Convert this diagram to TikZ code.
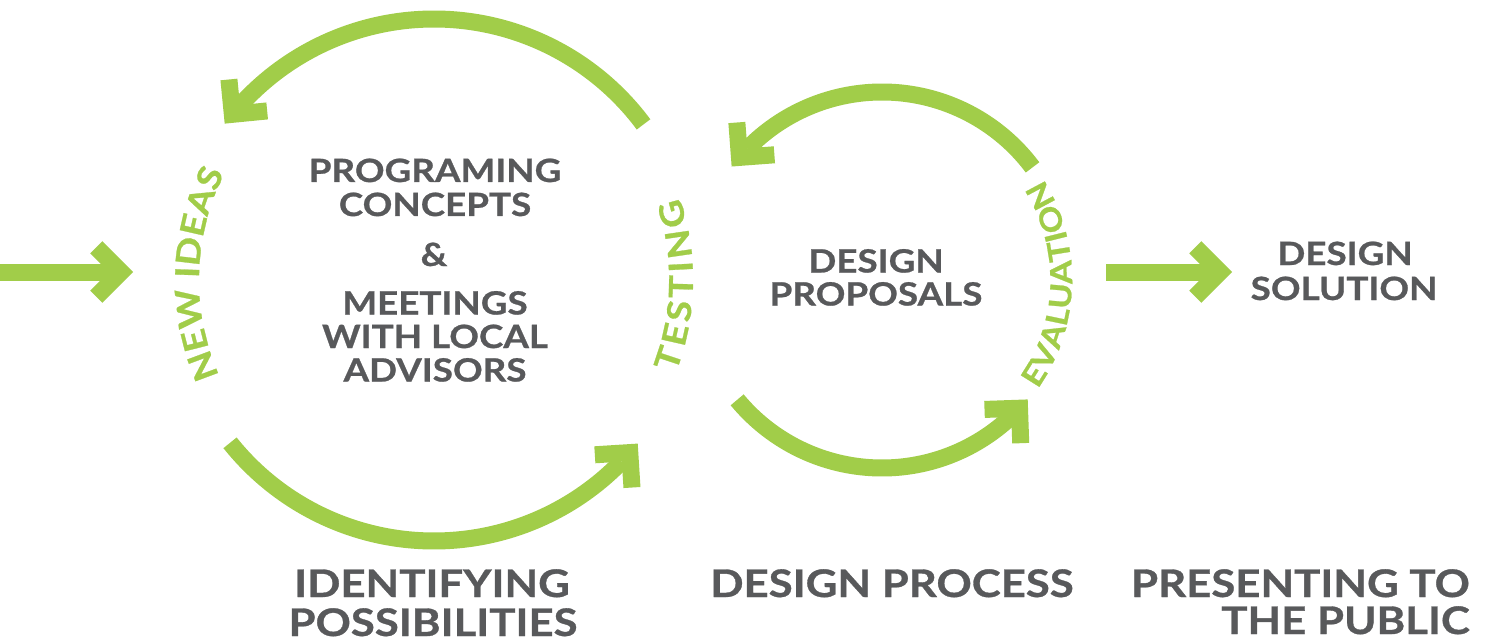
\documentclass[tikz,border=0pt]{standalone}
\usepackage{fontspec}
\setmainfont{Lato}[FakeStretch=1.15, BoldFeatures={FakeBold=0.8}]
\usetikzlibrary{decorations.text}

\definecolor{grn}{RGB}{161,205,73}
\definecolor{txt}{RGB}{88,89,91}

\tikzset{
  flow/.style={draw=grn, line width=17bp, line cap=butt, line join=miter},
  lbl/.style={text=txt, font=\fontsize{32bp}{32bp}\selectfont\bfseries, inner sep=0pt, anchor=base},
  biglbl/.style={text=txt, font=\fontsize{38bp}{38bp}\selectfont\bfseries, inner sep=0pt, anchor=base},
}
% chevron head: #1 = tip coordinate, #2 = direction of travel
\newcommand{\chevhead}[2]{\draw[flow] (#1) ++(#2+135:35bp) -- (#1) -- ++(#2-135:35bp);}
\newcommand{\grnfont}{\color{grn}\fontsize{33bp}{33bp}\selectfont\bfseries}
\newcommand{\grnsmall}{\color{grn}\fontsize{30bp}{30bp}\selectfont\bfseries}

\begin{document}
\begin{tikzpicture}[x=1bp,y=1bp]
\fill[white] (0,0) rectangle (1489,-644);
\useasboundingbox (0,0) rectangle (1489,-644);

% cycle centres
\coordinate (cL) at (434,-280);
\coordinate (cR) at (882,-280);

% ---- left cycle ----
\path (cL) ++(36.6:261bp) coordinate (l1s);
\draw[flow] (l1s) arc[start angle=36.6, end angle=137.9, radius=261bp] coordinate (l1e);
\path (cL) ++(140.6:261bp) coordinate (l1t);
\chevhead{l1t}{230.6}

\path (cL) ++(218.6:261bp) coordinate (l2s);
\draw[flow] (l2s) arc[start angle=218.6, end angle=315.9, radius=261bp] coordinate (l2e);
\path (cL) ++(318.6:261bp) coordinate (l2t);
\chevhead{l2t}{48.6}

% ---- right cycle ----
\path (cR) ++(36.8:188bp) coordinate (r1s);
\draw[flow] (r1s) arc[start angle=36.8, end angle=135.7, radius=188bp] coordinate (r1e);
\path (cR) ++(139.3:188bp) coordinate (r1t);
\chevhead{r1t}{229.3}

\path (cR) ++(219.6:188bp) coordinate (r2s);
\draw[flow] (r2s) arc[start angle=219.6, end angle=313.4, radius=188bp] coordinate (r2e);
\path (cR) ++(317:188bp) coordinate (r2t);
\chevhead{r2t}{47}

% ---- straight arrows ----
\coordinate (inS) at (0,-272);
\coordinate (inT) at (121,-272);
\draw[flow] (inS) -- ++(112,0);
\chevhead{inT}{0}

\coordinate (outS) at (1106,-272);
\coordinate (outT) at (1220,-272);
\draw[flow] (outS) -- ++(106,0);
\chevhead{outT}{0}

% ---- curved green labels ----
\path[decorate, decoration={text along path, text align=fit to path,
  text={|\grnfont|NEW IDEAS}}]
  (cL) ++(204:235bp) arc[start angle=204, end angle=155.5, radius=235bp];
\path[decorate, decoration={text along path, text align=fit to path,
  text={|\grnfont|TESTING}}]
  (cL) ++(-21:259bp) arc[start angle=-21, end angle=18.5, radius=259bp];
\path[decorate, decoration={text along path, text align=fit to path,
  text={|\grnsmall|EVALUATION}}]
  (cR) ++(-35:190bp) arc[start angle=-35, end angle=32, radius=190bp];

% ---- grey labels ----
\node[lbl] (prog1) at (435,-182) {PROGRAMING};
\node[lbl] (prog2) at (435,-216) {CONCEPTS};
\node[lbl] (amp)   at (434,-266) {\&};
\node[lbl] (meet1) at (435,-314.5) {MEETINGS};
\node[lbl] (meet2) at (435,-348) {WITH LOCAL};
\node[lbl] (meet3) at (435,-381.5) {ADVISORS};

\node[lbl] (prop1) at (876,-272.5) {DESIGN};
\node[lbl] (prop2) at (876,-305.5) {PROPOSALS};

\node[lbl] (sol1) at (1345,-265) {DESIGN};
\node[lbl] (sol2) at (1344,-300) {SOLUTION};

\node[biglbl] (ident1) at (432,-597) {IDENTIFYING};
\node[biglbl] (ident2) at (433,-636) {POSSIBILITIES};
\node[biglbl] (proc)   at (892,-597) {DESIGN PROCESS};
\node[biglbl, anchor=base east] (pres1) at (1470,-597) {PRESENTING TO};
\node[biglbl, anchor=base east] (pres2) at (1470,-634) {THE PUBLIC};
\end{tikzpicture}
\end{document}
